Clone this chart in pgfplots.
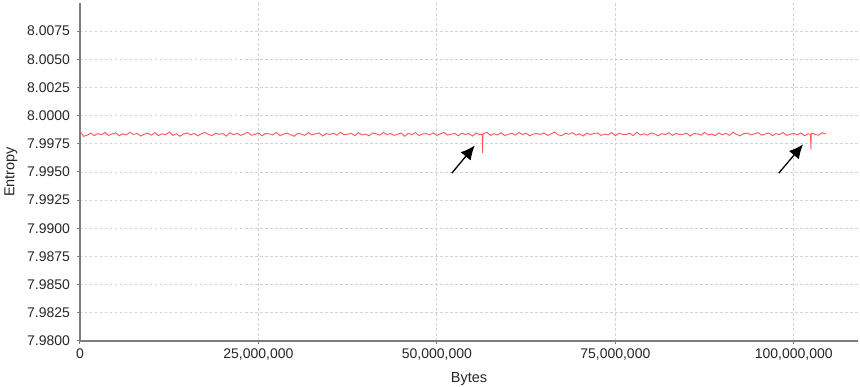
\documentclass[border=0pt]{standalone}
\usepackage{fontspec}
\setmainfont{Liberation Sans}
\usepackage{pgfplots}
\pgfplotsset{compat=1.18}
\usetikzlibrary{arrows.meta}
\definecolor{entred}{RGB}{255,85,85}
\definecolor{axgray}{RGB}{125,125,125}
\definecolor{gridgray}{RGB}{212,212,212}
\begin{document}
\begin{tikzpicture}
\useasboundingbox (-80pt,-46pt) rectangle (780pt,341pt);
\begin{axis}[
  scale only axis,
  width=778pt, height=338pt,
  xmin=0, xmax=109000000,
  ymin=7.98, ymax=8.01,
  axis x line*=bottom, axis y line*=left,
  axis line style={axgray, line width=1.5pt, -},
  tick style={axgray, line width=1pt},
  tick align=outside,
  major tick length=3pt,
  xtick={0,25000000,50000000,75000000,100000000},
  xticklabels={0,{25,000,000},{50,000,000},{75,000,000},{100,000,000}},
  ytick={7.98,7.9825,7.985,7.9875,7.99,7.9925,7.995,7.9975,8.0,8.0025,8.005,8.0075},
  yticklabels={7.9800,7.9825,7.9850,7.9875,7.9900,7.9925,7.9950,7.9975,8.0000,8.0025,8.0050,8.0075},
  scaled x ticks=false, scaled y ticks=false,
  ticklabel style={font=\fontsize{14}{16}\selectfont, text=black!85},
  yticklabel style={xshift=-3.5pt},
  xticklabel style={yshift=-1pt},
  grid=major,
  major grid style={gridgray, dash pattern=on 2.5pt off 2.5pt, line width=0.8pt},
  xlabel={Bytes}, ylabel={Entropy},
  label style={font=\fontsize{14.5}{16}\selectfont, text=black!85},
  xlabel style={yshift=-6pt},
  ylabel style={yshift=3pt},
  clip=false,
]
\addplot[entred, line width=0.9pt, no marks] table {
x y
0 7.99860
500000 7.99817
1000000 7.99827
1500000 7.99845
2000000 7.99823
2500000 7.99841
3000000 7.99831
3500000 7.99851
4000000 7.99825
4500000 7.99837
5000000 7.99847
5500000 7.99821
6000000 7.99839
6500000 7.99829
7000000 7.99853
7500000 7.99833
8000000 7.99843
8500000 7.99819
9000000 7.99835
9500000 7.99845
10000000 7.99827
10500000 7.99849
11000000 7.99823
11500000 7.99839
12000000 7.99831
12500000 7.99855
13000000 7.99825
13500000 7.99841
14000000 7.99817
14500000 7.99837
15000000 7.99847
15500000 7.99829
16000000 7.99843
16500000 7.99821
17000000 7.99839
17500000 7.99851
18000000 7.99833
18500000 7.99823
19000000 7.99845
19500000 7.99835
20000000 7.99841
20500000 7.99819
21000000 7.99849
21500000 7.99831
22000000 7.99843
22500000 7.99825
23000000 7.99837
23500000 7.99853
24000000 7.99827
24500000 7.99833
25000000 7.99847
25500000 7.99821
26000000 7.99841
26500000 7.99839
27000000 7.99829
27500000 7.99851
28000000 7.99823
28500000 7.99835
29000000 7.99845
29500000 7.99831
30000000 7.99817
30500000 7.99843
31000000 7.99837
31500000 7.99825
32000000 7.99849
32500000 7.99829
33000000 7.99839
33500000 7.99847
34000000 7.99819
34500000 7.99841
35000000 7.99833
35500000 7.99845
36000000 7.99827
36500000 7.99853
37000000 7.99831
37500000 7.99835
38000000 7.99843
38500000 7.99823
39000000 7.99849
39500000 7.99829
40000000 7.99837
40500000 7.99821
41000000 7.99847
41500000 7.99839
42000000 7.99827
42500000 7.99851
43000000 7.99833
43500000 7.99841
44000000 7.99825
44500000 7.99835
45000000 7.99845
45500000 7.99817
46000000 7.99843
46500000 7.99831
47000000 7.99849
47500000 7.99823
48000000 7.99837
48500000 7.99841
49000000 7.99829
49500000 7.99847
50000000 7.99825
50500000 7.99839
51000000 7.99851
51500000 7.99827
52000000 7.99835
52500000 7.99843
53000000 7.99821
53500000 7.99845
54000000 7.99833
54500000 7.99841
55000000 7.99819
55500000 7.99847
56000000 7.99831
56350000 7.99834
56400000 7.99670
56450000 7.99834
56500000 7.99837
57000000 7.99853
57500000 7.99825
58000000 7.99839
58500000 7.99829
59000000 7.99849
59500000 7.99823
60000000 7.99835
60500000 7.99843
61000000 7.99827
61500000 7.99851
62000000 7.99831
62500000 7.99845
63000000 7.99821
63500000 7.99837
64000000 7.99841
64500000 7.99833
65000000 7.99847
65500000 7.99825
66000000 7.99839
66500000 7.99855
67000000 7.99829
67500000 7.99823
68000000 7.99843
68500000 7.99835
69000000 7.99849
69500000 7.99827
70000000 7.99839
70500000 7.99819
71000000 7.99845
71500000 7.99833
72000000 7.99841
72500000 7.99847
73000000 7.99825
73500000 7.99837
74000000 7.99829
74500000 7.99851
75000000 7.99821
75500000 7.99843
76000000 7.99835
76500000 7.99831
77000000 7.99845
77500000 7.99823
78000000 7.99853
78500000 7.99829
79000000 7.99839
79500000 7.99827
80000000 7.99847
80500000 7.99837
81000000 7.99821
81500000 7.99841
82000000 7.99831
82500000 7.99849
83000000 7.99825
83500000 7.99843
84000000 7.99833
84500000 7.99835
85000000 7.99845
85500000 7.99819
86000000 7.99841
86500000 7.99839
87000000 7.99827
87500000 7.99851
88000000 7.99829
88500000 7.99837
89000000 7.99823
89500000 7.99847
90000000 7.99831
90500000 7.99843
91000000 7.99825
91500000 7.99853
92000000 7.99833
92500000 7.99821
93000000 7.99841
93500000 7.99845
94000000 7.99829
94500000 7.99839
95000000 7.99849
95500000 7.99827
96000000 7.99837
96500000 7.99847
97000000 7.99823
97500000 7.99841
98000000 7.99831
98500000 7.99851
99000000 7.99825
99500000 7.99835
100000000 7.99843
100500000 7.99829
101000000 7.99847
101500000 7.99821
102000000 7.99839
102350000 7.99835
102400000 7.99700
102450000 7.99835
102500000 7.99845
103000000 7.99833
103500000 7.99827
104000000 7.99849
104500000 7.99837
};
\draw[-{Latex[length=14pt,width=13pt]}, line width=1.3pt, black] (axis cs:52100000,7.99490) -- (axis cs:55300000,7.99735);
\draw[-{Latex[length=14pt,width=13pt]}, line width=1.3pt, black] (axis cs:97900000,7.99490) -- (axis cs:101300000,7.99745);
\end{axis}
\end{tikzpicture}
\end{document}
